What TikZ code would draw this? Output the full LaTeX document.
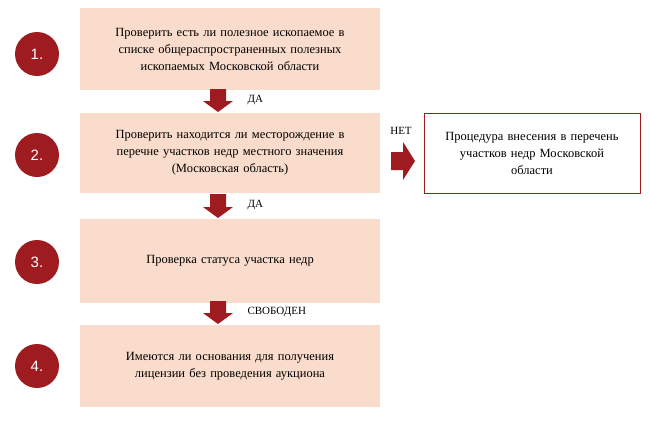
\documentclass[tikz,border=0pt]{standalone}
\usepackage{fontspec}
\setmainfont{Liberation Serif}
\newfontfamily\numfont{Liberation Sans}
\definecolor{dred}{HTML}{9E1C20}
\definecolor{peach}{HTML}{F9DCCB}
\tikzset{
 box/.style={fill=peach,draw=none,minimum width=300pt,align=center,font=\fontsize{12.5}{17}\selectfont,text width=292pt},
 num/.style={circle,fill=dred,minimum size=44pt,text=white,font=\numfont\fontsize{15}{15}\selectfont},
 lab/.style={font=\fontsize{11}{12}\selectfont}
}
\newcommand\mydownarr[3]{% x, ytop, ybottom
 \fill[dred] (#1-8,#2) -- (#1+8,#2) -- (#1+8,#3-11) -- (#1+15,#3-11) -- (#1,#3) -- (#1-15,#3-11) -- (#1-8,#3-11) -- cycle;}
\begin{document}
\begin{tikzpicture}[x=1pt,y=-1pt]
\useasboundingbox (0,0) rectangle (650,421);
\node[box,minimum height=82pt] (b1) at (230,49) {Проверить есть ли полезное ископаемое в\\ списке общераспространенных полезных\\ ископаемых Московской области};
\node[box,minimum height=80pt] (b2) at (230,153) {Проверить находится ли месторождение в\\ перечне участков недр местного значения\\ (Московская область)};
\node[box,minimum height=84pt] (b3) at (230,261) {Проверка статуса участка недр};
\node[box,minimum height=82pt] (b4) at (230,366) {Имеются ли основания для получения\\ лицензии без проведения аукциона};
\node[draw=dred,line width=0.8pt,minimum width=216pt,minimum height=80pt,align=center,text width=205pt,font=\fontsize{12.5}{17}\selectfont] (r) at (532,153) {Процедура внесения в перечень\\ участков недр Московской\\ области};
\node[num] (n1) at (37,54) {1.};
\node[num] (n2) at (37,155) {2.};
\node[num] (n3) at (37,262) {3.};
\node[num] (n4) at (37,366) {4.};
\mydownarr{218}{89}{112}
\mydownarr{218}{194}{218}
\mydownarr{218}{301}{324}
\fill[dred] (391,152) -- (403,152) -- (403,142) -- (415,161) -- (403,180) -- (403,170) -- (391,170) -- cycle;
\node[lab,anchor=west] (l1) at (244,100) {ДА};
\node[lab,anchor=west] (l2) at (244,205) {ДА};
\node[lab,anchor=west] (l3) at (244,312) {СВОБОДЕН};
\node[lab] (l4) at (401,131) {НЕТ};
\end{tikzpicture}
\end{document}
